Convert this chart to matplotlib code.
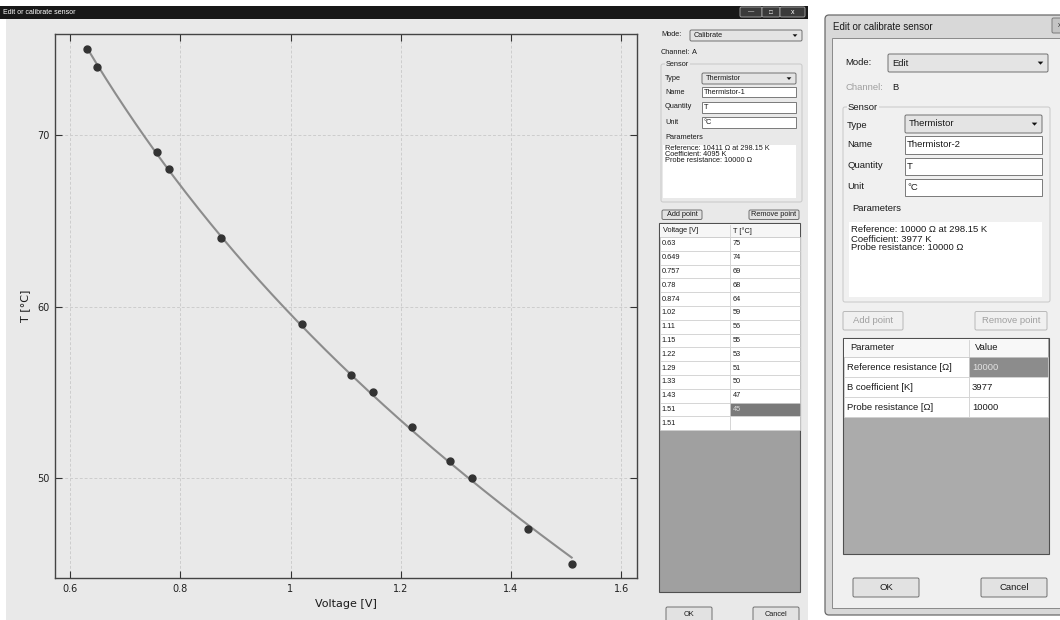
import numpy as np
import matplotlib.pyplot as plt
from matplotlib.patches import Rectangle, FancyBboxPatch, Polygon

# calibration points, channel A
voltage = [0.63, 0.649, 0.757, 0.78, 0.874, 1.02, 1.11, 1.15, 1.22, 1.29, 1.33, 1.43, 1.51]
temperature = [75, 74, 69, 68, 64, 59, 56, 55, 53, 51, 50, 47, 45]
pending_voltage = "1.51"

# thermistor fit shown for channel A (divider fed with 5 V)
ref_resistance = 10411.0
ref_temperature = 298.15
b_coefficient = 4095.0
probe_resistance = 10000.0
supply_voltage = 5.0

x_ticks = [0.6, 0.8, 1.0, 1.2, 1.4, 1.6]
x_tick_labels = ["0.6", "0.8", "1", "1.2", "1.4", "1.6"]
y_ticks = [50, 60, 70]

params_a = ["Reference: 10411 Ω at 298.15 K", "Coefficient: 4095 K", "Probe resistance: 10000 Ω"]
params_b = ["Reference: 10000 Ω at 298.15 K", "Coefficient: 3977 K", "Probe resistance: 10000 Ω"]

# channel B parameter table
param_names = ["Reference resistance [Ω]", "B coefficient [K]", "Probe resistance [Ω]"]
param_values = ["10000", "3977", "10000"]

GUI_FONT = ["Liberation Sans", "DejaVu Sans"]
W, H = 1060, 620

fig = plt.figure(figsize=(W / 100, H / 100), dpi=100)
ui = fig.add_axes([0, 0, 1, 1])
ui.set_xlim(0, W)
ui.set_ylim(H, 0)
ui.axis("off")


def box(x0, y0, x1, y1, fc, ec="none", lw=0.8, z=1, r=0):
    if r:
        p = FancyBboxPatch((x0, y0), x1 - x0, y1 - y0, boxstyle=f"round,pad=0,rounding_size={r}",
                           fc=fc, ec=ec, lw=lw, zorder=z)
    else:
        p = Rectangle((x0, y0), x1 - x0, y1 - y0, fc=fc, ec=ec, lw=lw, zorder=z)
    ui.add_patch(p)


def label(x, y, s, size=5, color="#1a1a1a", ha="left", **kw):
    ui.text(x, y, s, fontsize=size, color=color, ha=ha, va="center", family=GUI_FONT, zorder=6, **kw)


def button(x0, y0, x1, y1, s, size, color="#1a1a1a", fc="#e2e2e2", ec="#707070"):
    box(x0, y0, x1, y1, fc, ec, lw=0.7, z=3, r=1.5)
    label((x0 + x1) / 2, (y0 + y1) / 2, s, size, color, ha="center")


def combo(x0, y0, x1, y1, s, size, a):
    box(x0, y0, x1, y1, "#e4e4e4", "#707070", lw=0.7, z=3, r=1.5)
    label(x0 + 4, (y0 + y1) / 2, s, size)
    xa, yc = x1 - 4 - 2.5 * a, (y0 + y1) / 2
    ui.add_patch(Polygon([(xa - 2 * a, yc - a), (xa + 2 * a, yc - a), (xa, yc + 1.2 * a)],
                         fc="#111111", ec="none", zorder=4))


def textbox(x0, y0, x1, y1, s, size):
    box(x0, y0, x1, y1, "white", "#7a7a7a", lw=0.7, z=3)
    label(x0 + 2, (y0 + y1) / 2, s, size)


def group(x0, y0, x1, y1, title, size, bg):
    box(x0, y0, x1, y1, "none", "#c8c8c8", lw=0.7, z=2, r=2)
    label(x0 + 5, y0, title, size, bbox=dict(fc=bg, ec="none", pad=0.6))


# ---------------- left window ----------------
box(0, 0, W, H, "white", z=0)
box(0, 6, 808, 19, "#181818")
label(3, 12.5, "Edit or calibrate sensor", 5, "white")
button(740, 7, 762, 17, "—", 4.5, "white", "#3a3a3a", "#9a9a9a")
button(762, 7, 780, 17, "□", 4.5, "white", "#3a3a3a", "#9a9a9a")
button(780, 7, 805, 17, "x", 5, "white", "#3a3a3a", "#9a9a9a")
box(6, 19, 808, H, "#e9e9e9")

BG_L = "#e9e9e9"
fs = 5.3
label(661, 35, "Mode:", fs)
combo(690, 30, 802, 41, "Calibrate", fs, 1.2)
label(661, 52.5, "Channel:", fs)
label(692, 52.5, "A", fs)
group(661, 64, 802, 202, "Sensor", fs, BG_L)
label(665, 79, "Type", fs)
combo(702, 73, 796, 84, "Thermistor", fs, 1.2)
label(665, 92, "Name", fs)
textbox(702, 87, 796, 97, "Thermistor-1", fs)
label(665, 107, "Quantity", fs)
textbox(702, 102, 796, 112.5, "T", fs)
label(665, 122, "Unit", fs)
textbox(702, 117, 796, 127.5, "°C", fs)
label(665, 137.5, "Parameters", fs)
box(663, 145, 796, 198, "white", z=3)
for i, s in enumerate(params_a):
    label(665, 149 + 6 * i, s, fs)

button(662, 210, 702, 219.5, "Add point", fs)
button(749, 210, 799, 219.5, "Remove point", fs)

# point table
box(659, 223, 800, 592, "#a0a0a0", "#505050", lw=0.8, z=2)
box(660, 224, 799.5, 237, "#f6f6f6", z=3)
label(663, 231, "Voltage [V]", fs)
label(733, 231, "T [°C]", fs)
ui.plot([729.5, 729.5], [225, 236], color="#d0d0d0", lw=0.6, zorder=4)
rows = [(f"{v:g}", f"{t:g}") for v, t in zip(voltage, temperature)] + [(pending_voltage, "")]
rh = 13.8
for i, (v, t) in enumerate(rows):
    y0 = 237 + i * rh
    box(660, y0, 729.5, y0 + rh, "white", "#cfcfcf", lw=0.5, z=3)
    sel = i == len(temperature) - 1
    box(729.5, y0, 799.5, y0 + rh, "#7a7a7a" if sel else "white", "#cfcfcf", lw=0.5, z=3)
    label(661.5, y0 + rh / 2, v, fs)
    label(732.5, y0 + rh / 2, t, fs, "#d8d8d8" if sel else "#1a1a1a")

button(666, 607, 712, 623, "OK", fs)
button(753, 607, 799, 623, "Cancel", fs)

# ---------------- right dialog ----------------
BG_R = "#f0f0f0"
fr = 6.8
box(825, 15, 1068, 615, "#d8d8d8", "#6a6a6a", lw=0.9, z=1, r=4)
label(833, 26.5, "Edit or calibrate sensor", 7)
button(1052, 18, 1068, 33, "x", 5, "#333333", "#c4c4c4", "#7a7a7a")
box(832, 38, 1068, 608, BG_R, "#8a8a8a", lw=0.7, z=1)
label(845, 62.5, "Mode:", fr)
combo(888, 54, 1048, 72, "Edit", fr, 1.4)
label(845, 88, "Channel:", fr, "#a0a0a0")
label(892, 88, "B", fr)
group(843, 107, 1050, 302, "Sensor", fr, BG_R)
label(847, 125, "Type", fr)
combo(905, 115, 1042, 133, "Thermistor", fr, 1.4)
label(847, 144.5, "Name", fr)
textbox(905, 136, 1042, 153.5, "Thermistor-2", fr)
label(847, 166, "Quantity", fr)
textbox(905, 157.5, 1042, 175, "T", fr)
label(847, 186.5, "Unit", fr)
textbox(905, 178.5, 1042, 196, "°C", fr)
label(852, 208.5, "Parameters", fr)
box(849, 221.5, 1042, 297, "white", z=3)
for i, s in enumerate(params_b):
    label(851, 230 + 9 * i, s, fr)

button(843, 311.5, 903, 330, "Add point", fr, "#a0a0a0", BG_R, "#b8b8b8")
button(975, 311.5, 1047, 330, "Remove point", fr, "#a0a0a0", BG_R, "#b8b8b8")

box(843, 338, 1048.5, 553.5, "#ababab", "#505050", lw=0.8, z=2)
box(844, 339, 1047.5, 357, "#f8f8f8", z=3)
label(850, 348, "Parameter", fr)
label(975, 348, "Value", fr)
ui.plot([968.5, 968.5], [340, 356], color="#d0d0d0", lw=0.6, zorder=4)
prh = 20
for i, (n, v) in enumerate(zip(param_names, param_values)):
    y0 = 357 + i * prh
    box(844, y0, 968.5, y0 + prh, "white", "#cfcfcf", lw=0.5, z=3)
    sel = i == 0
    box(968.5, y0, 1047.5, y0 + prh, "#8c8c8c" if sel else "white", "#cfcfcf", lw=0.5, z=3)
    label(847, y0 + prh / 2, n, fr)
    label(972, y0 + prh / 2, v, fr, "#e2e2e2" if sel else "#1a1a1a")

button(853, 578, 919, 597, "OK", fr)
button(981, 578, 1047, 597, "Cancel", fr)

# ---------------- calibration plot ----------------
v_fit = np.linspace(min(voltage), max(voltage), 200)
r_fit = probe_resistance * v_fit / (supply_voltage - v_fit)
t_fit = 1.0 / (1.0 / ref_temperature + np.log(r_fit / ref_resistance) / b_coefficient) - 273.15

ax = fig.add_axes([55 / W, 1 - 578 / H, (637 - 55) / W, (578 - 34) / H])
ax.set_facecolor(BG_L)
ax.plot(v_fit, t_fit, color="#8c8c8c", lw=1.5, zorder=2)
ax.plot(voltage, temperature, "o", color="#333333", ms=5, zorder=3)
ax.set_xlim(0.5728, 1.6285)
ax.set_ylim(44.17, 75.9)
ax.set_xticks(x_ticks, x_tick_labels)
ax.set_yticks(y_ticks)
ax.tick_params(direction="in", top=True, right=True, length=5, width=0.8, color="#333333",
               labelsize=7, labelcolor="#222222", pad=4)
ax.grid(True, color="#cdcdcd", ls=(0, (3, 2)), lw=0.7)
ax.set_axisbelow(True)
for sp in ax.spines.values():
    sp.set_color("#444444")
    sp.set_linewidth(1.0)
ax.set_xlabel("Voltage [V]", fontsize=8, labelpad=4, color="#1a1a1a")
ax.set_ylabel("T [°C]", fontsize=8, labelpad=5, color="#1a1a1a")

fig.savefig("out.png", dpi=100)
